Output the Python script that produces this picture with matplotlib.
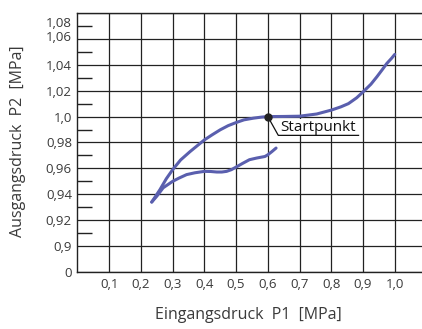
import matplotlib
matplotlib.use('Agg')
import matplotlib.pyplot as plt
from matplotlib.transforms import ScaledTranslation

plt.rcParams['font.family'] = ['Open Sans', 'DejaVu Sans']

# values
x_upper = [0.234, 0.245, 0.26, 0.28, 0.30, 0.325, 0.355, 0.38, 0.40, 0.425,
           0.45, 0.475, 0.50, 0.525, 0.555, 0.58, 0.60, 0.65, 0.70, 0.754,
           0.80, 0.83, 0.854, 0.88, 0.90, 0.925, 0.944, 0.96, 0.975, 0.99, 1.00]
y_upper = [0.934, 0.938, 0.9436, 0.952, 0.959, 0.9665, 0.973, 0.978, 0.982, 0.986,
           0.9898, 0.993, 0.9954, 0.9975, 0.9988, 0.9996, 1.000, 1.0001, 1.0003, 1.002,
           1.005, 1.0075, 1.010, 1.0145, 1.019, 1.025, 1.0308, 1.036, 1.041, 1.045, 1.048]

x_lower = [0.234, 0.25, 0.27, 0.30, 0.32, 0.344, 0.37, 0.40, 0.42, 0.439,
           0.455, 0.47, 0.485, 0.50, 0.52, 0.542, 0.565, 0.591, 0.60, 0.613, 0.626]
y_lower = [0.934, 0.9385, 0.945, 0.950, 0.9525, 0.9552, 0.9566, 0.9577, 0.9576, 0.9572,
           0.9572, 0.9577, 0.959, 0.961, 0.9638, 0.9667, 0.968, 0.9692, 0.9705, 0.973, 0.9757]

start_x, start_y = 0.60, 1.00
start_label = 'Startpunkt'

x_ticks = [0.1, 0.2, 0.3, 0.4, 0.5, 0.6, 0.7, 0.8, 0.9, 1.0]
x_ticklabels = ['0,1', '0,2', '0,3', '0,4', '0,5', '0,6', '0,7', '0,8', '0,9', '1,0']
# lowest tick is the broken-axis "0"
y_ticks = [0.88, 0.90, 0.92, 0.94, 0.96, 0.98, 1.00, 1.02, 1.04, 1.06, 1.08]
y_ticklabels = ['0', '0,9', '0,92', '0,94', '0,96', '0,98', '1,0', '1,02', '1,04', '1,06', '1,08']
y_minor = [0.91, 0.93, 0.95, 0.97, 0.99, 1.01, 1.03, 1.05, 1.07]

line_color = '#5a5fae'
txt_color = '#3a3a3a'

fig = plt.figure(figsize=(4.22, 3.29), dpi=100)
ax = fig.add_axes([0.1836, 0.1733, 0.8164, 0.7872])

ax.set_xlim(0, 1.086)
ax.set_ylim(0.88, 1.08)

ax.set_xticks(x_ticks)
ax.set_xticklabels(x_ticklabels)
ax.set_yticks(y_ticks)
ax.set_yticklabels(y_ticklabels)
ax.set_yticks(y_minor, minor=True)

ax.grid(True, which='major', color='#222222', lw=0.9)
ax.set_axisbelow(True)
ax.tick_params(axis='both', which='major', length=0, labelsize=9.5, labelcolor=txt_color)
ax.tick_params(axis='x', pad=4)
ax.tick_params(axis='y', pad=4)
ax.tick_params(axis='y', which='minor', direction='in', length=11, width=1, color='#222222')

for s in ['left', 'bottom', 'top']:
    ax.spines[s].set_linewidth(1)
    ax.spines[s].set_color('#222222')
ax.spines['right'].set_visible(False)

# nudge the two crowded top labels apart
ylabels = ax.get_yticklabels()
ylabels[-1].set_transform(ylabels[-1].get_transform() + ScaledTranslation(0, -0.09, fig.dpi_scale_trans))
ylabels[-2].set_transform(ylabels[-2].get_transform() + ScaledTranslation(0, 0.03, fig.dpi_scale_trans))

ax.plot(x_upper, y_upper, color=line_color, lw=2.2, solid_capstyle='round',
        solid_joinstyle='round', zorder=3)
ax.plot(x_lower, y_lower, color=line_color, lw=2.2, solid_capstyle='round',
        solid_joinstyle='round', zorder=3)

# start point with leader line and underlined label
lead_x = [start_x, 0.633, 0.886]
lead_y = [start_y, 0.9855, 0.9855]
ax.text(0.638, 0.9858, start_label, fontsize=11, color='#111111', ha='left', va='bottom',
        bbox=dict(facecolor='white', edgecolor='none', pad=1.0), zorder=4)
ax.plot(lead_x, lead_y, color='#111111', lw=0.9, zorder=5)
ax.plot([start_x], [start_y], 'o', color='#222222', ms=5, zorder=6)

fig.text(0.589, 0.043, 'Eingangsdruck  P1  [MPa]', fontsize=11.5, color=txt_color,
         ha='center', va='center')
fig.text(0.042, 0.57, 'Ausgangsdruck  P2  [MPa]', fontsize=11.5, color=txt_color,
         ha='center', va='center', rotation=90)

fig.savefig('out.png', dpi=100)
